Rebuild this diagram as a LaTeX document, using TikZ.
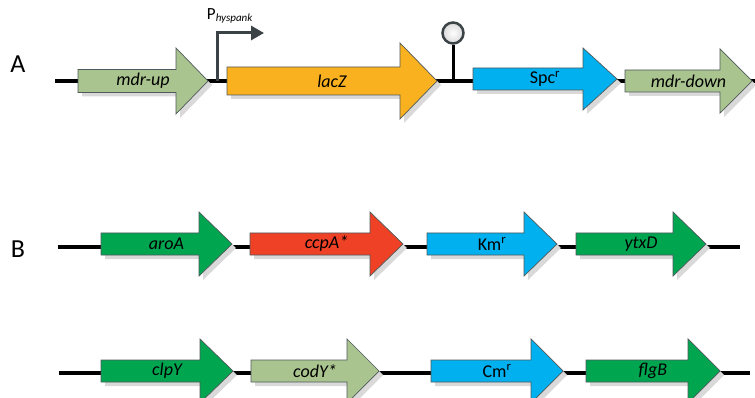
\documentclass[tikz,border=0pt]{standalone}
\usepackage{fontspec}
\setmainfont{Carlito}
\usetikzlibrary{arrows.meta}
\definecolor{lgreen}{HTML}{A9C48E}
\definecolor{orangec}{HTML}{F9B11F}
\definecolor{bluec}{HTML}{00B0EF}
\definecolor{greenc}{HTML}{00A550}
\definecolor{redc}{HTML}{EE4126}
\definecolor{edgec}{HTML}{505A5C}
\definecolor{shadowc}{HTML}{D9D9D9}
\definecolor{promc}{HTML}{3B4346}
\tikzset{
  dnaline/.style={line width=4pt, black},
  genebody/.style={draw=edgec, line width=0.7pt},
  genelabel/.style={font=\fontsize{18}{20}\selectfont\itshape, inner sep=0pt},
  reslabel/.style={font=\fontsize{18}{20}\selectfont, inner sep=0pt},
  rowlabel/.style={font=\fontsize{26}{30}\selectfont, inner sep=0pt},
}
% #1 name, #2 x0, #3 xhead, #4 xtip, #5 y, #6 body half, #7 head half, #8 colour, #9 label
\newcommand{\gene}[9]{%
  \fill[shadowc] ({#2+4},{#5-#6+4}) -- ({#3+4},{#5-#6+4}) -- ({#3+4},{#5-#7+4}) -- ({#4+4},{#5+4}) -- ({#3+4},{#5+#7+4}) -- ({#3+4},{#5+#6+4}) -- ({#2+4},{#5+#6+4}) -- cycle;
  \filldraw[genebody, fill=#8] (#2,{#5-#6}) -- (#3,{#5-#6}) -- (#3,{#5-#7}) -- (#4,#5) -- (#3,{#5+#7}) -- (#3,{#5+#6}) -- (#2,{#5+#6}) -- cycle;
  \node[genelabel] (#1) at ({(#2+#4)/2},#5) {#9};
}
\newcommand{\resgene}[9]{%
  \fill[shadowc] ({#2+4},{#5-#6+4}) -- ({#3+4},{#5-#6+4}) -- ({#3+4},{#5-#7+4}) -- ({#4+4},{#5+4}) -- ({#3+4},{#5+#7+4}) -- ({#3+4},{#5+#6+4}) -- ({#2+4},{#5+#6+4}) -- cycle;
  \filldraw[genebody, fill=#8] (#2,{#5-#6}) -- (#3,{#5-#6}) -- (#3,{#5-#7}) -- (#4,#5) -- (#3,{#5+#7}) -- (#3,{#5+#6}) -- (#2,{#5+#6}) -- cycle;
  \node[reslabel] (#1) at ({(#2+#4)/2},#5) {#9};
}
\begin{document}
\begin{tikzpicture}[x=1pt,y=-1pt]
\useasboundingbox (0,0) rectangle (755,398);
\fill[white] (0,0) rectangle (755,398);

% row labels
\node[rowlabel] (labA) at (18,64) {A};
\node[rowlabel] (labB) at (18,249) {B};

% ---------- Row A ----------
\coordinate (a0) at (55,81);
\coordinate (a1) at (755,81);
\draw[dnaline] (a0) -- (a1);

\gene{mdrup}{78}{176}{208}{81}{11.5}{33}{lgreen}{mdr-up}
\gene{lacz}{227}{400}{437}{81}{14}{38}{orangec}{lacZ}
\resgene{spc}{473}{583}{617}{79}{11}{31}{bluec}{Spc\textsuperscript{r}}
\gene{mdrdown}{625}{720}{752}{81}{11}{32}{lgreen}{mdr-down}

% promoter
\coordinate (p0) at (217,81);
\coordinate (p1) at (264,33);
\draw[promc, line width=3pt, -{Triangle[length=13pt,width=14pt]}] (p0) |- (p1);
\node[inner sep=0pt, font=\fontsize{17}{19}\selectfont] (pname) at (230,16) {P\textsubscript{\textit{\fontsize{11}{13}\selectfont hyspank}}};

% terminator
\coordinate (t0) at (453,81);
\node[circle, draw=promc, line width=2.5pt, minimum size=21pt, inner sep=0pt, inner color=white, outer color=gray!30] (term) at (453,33) {};
\draw[black, line width=3pt] (t0) -- (term.south);

% ---------- Row B1 ----------
\coordinate (b0) at (58,247);
\coordinate (b1) at (740,247);
\draw[dnaline] (b0) -- (b1);
\gene{aroa}{101}{199}{232}{244}{11}{32}{greenc}{aroA}
\gene{ccpa}{250}{370}{403}{244}{11}{32}{redc}{ccpA*}
\resgene{km}{427}{524}{557}{244}{11}{32}{bluec}{Km\textsuperscript{r}}
\gene{ytxd}{576}{673}{706}{244}{11}{32}{greenc}{ytxD}

% ---------- Row B2 ----------
\coordinate (c0) at (59,373);
\coordinate (c1) at (750,373);
\draw[dnaline] (c0) -- (c1);
\gene{clpy}{101}{200}{233}{371}{11}{32}{greenc}{clpY}
\gene{cody}{251}{347}{379}{371}{11}{32}{lgreen}{codY*}
\resgene{cm}{431}{531}{563}{371}{11}{32}{bluec}{Cm\textsuperscript{r}}
\gene{flgb}{586}{688}{720}{371}{11}{32}{greenc}{flgB}
\end{tikzpicture}
\end{document}
